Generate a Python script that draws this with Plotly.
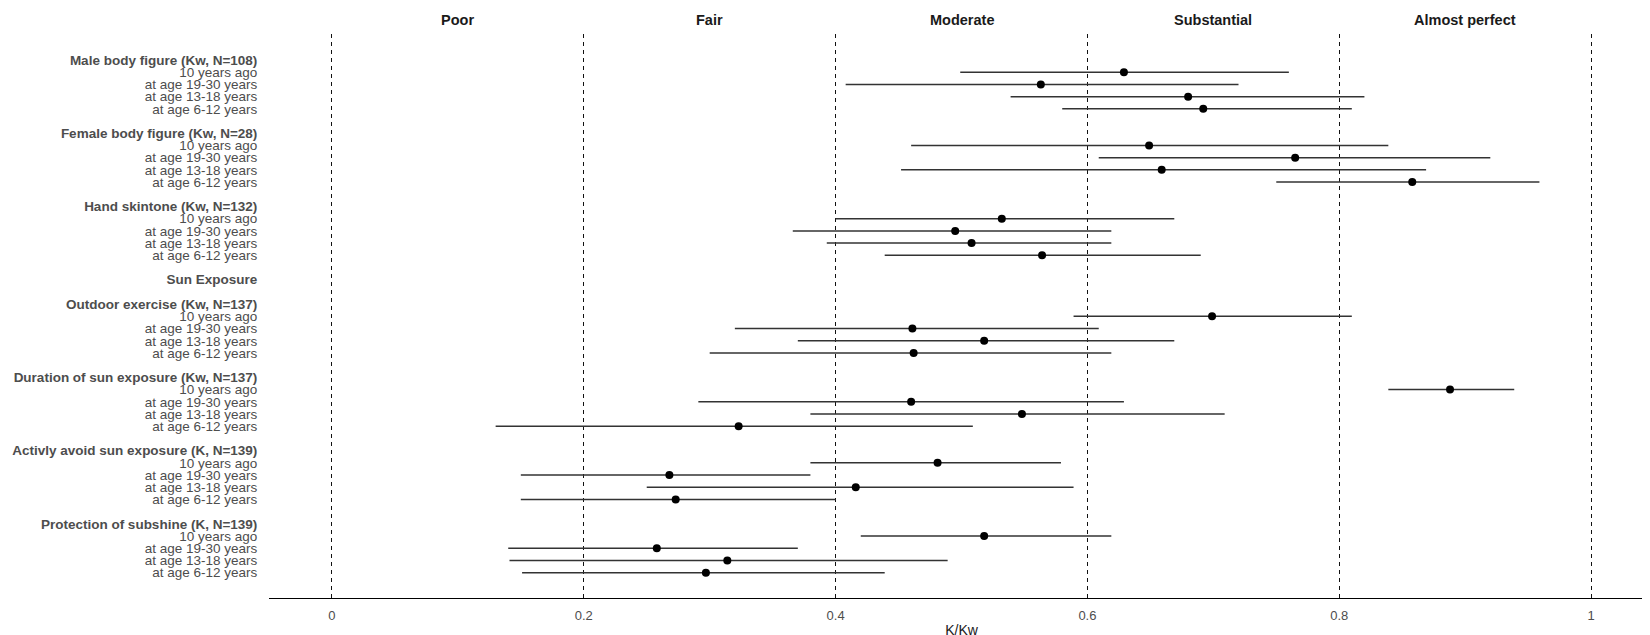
import plotly.graph_objects as go

# ---------------- data ----------------
group_names = [
    "Male body figure (Kw, N=108)",
    "Female body figure (Kw, N=28)",
    "Hand skintone (Kw, N=132)",
    "Outdoor exercise (Kw, N=137)",
    "Duration of sun exposure (Kw, N=137)",
    "Activly avoid sun exposure (K, N=139)",
    "Protection of subshine (K, N=139)",
]
section_header = "Sun Exposure"
section_before_group = 3  # "Sun Exposure" heading precedes group index 3

item_labels = ["10 years ago", "at age 19-30 years", "at age 13-18 years", "at age 6-12 years"]

estimate = [
    [0.629, 0.563, 0.680, 0.692],
    [0.649, 0.765, 0.659, 0.858],
    [0.532, 0.495, 0.508, 0.564],
    [0.699, 0.461, 0.518, 0.462],
    [0.888, 0.460, 0.548, 0.323],
    [0.481, 0.268, 0.416, 0.273],
    [0.518, 0.258, 0.314, 0.297],
]
lower = [
    [0.499, 0.408, 0.539, 0.580],
    [0.460, 0.609, 0.452, 0.750],
    [0.400, 0.366, 0.393, 0.439],
    [0.589, 0.320, 0.370, 0.300],
    [0.839, 0.291, 0.380, 0.130],
    [0.380, 0.150, 0.250, 0.150],
    [0.420, 0.140, 0.141, 0.151],
]
upper = [
    [0.760, 0.720, 0.820, 0.810],
    [0.839, 0.920, 0.869, 0.959],
    [0.669, 0.619, 0.619, 0.690],
    [0.810, 0.609, 0.669, 0.619],
    [0.939, 0.629, 0.709, 0.509],
    [0.579, 0.380, 0.589, 0.400],
    [0.619, 0.370, 0.489, 0.439],
]

agreement_labels = ["Poor", "Fair", "Moderate", "Substantial", "Almost perfect"]
agreement_bounds = [0, 0.2, 0.4, 0.6, 0.8, 1.0]
x_tick_labels = ["0", "0.2", "0.4", "0.6", "0.8", "1"]

# ---------------- row layout ----------------
tick_pos, tick_txt = [], []
pt_y, pt_x, err_plus, err_minus = [], [], [], []
row = 0
for g, name in enumerate(group_names):
    if g == section_before_group:
        tick_pos.append(row)
        tick_txt.append("<b>" + section_header + "</b>")
        row += 2
    tick_pos.append(row)
    tick_txt.append("<b>" + name + "</b>")
    row += 1
    for k, lab in enumerate(item_labels):
        tick_pos.append(row)
        tick_txt.append(lab)
        pt_y.append(row)
        pt_x.append(estimate[g][k])
        err_plus.append(upper[g][k] - estimate[g][k])
        err_minus.append(estimate[g][k] - lower[g][k])
        row += 1
    row += 1
last_row = row - 2

FONT = "Liberation Sans, Arial, sans-serif"
TXT = "#4d4d4d"

fig = go.Figure()
fig.add_trace(go.Scatter(
    x=pt_x, y=pt_y, mode="markers",
    marker=dict(symbol="circle", size=8, color="black"),
    error_x=dict(type="data", symmetric=False, array=err_plus, arrayminus=err_minus,
                 width=0, thickness=1.5, color="#333333"),
    showlegend=False, hoverinfo="skip",
))

for i, lab in enumerate(agreement_labels):
    fig.add_annotation(
        x=(agreement_bounds[i] + agreement_bounds[i + 1]) / 2, xref="x",
        y=1, yref="paper", yanchor="middle", yshift=14,
        text="<b>" + lab + "</b>", showarrow=False,
        font=dict(family=FONT, size=14.5, color="#1a1a1a"),
    )

fig.update_layout(
    width=1650, height=635,
    margin=dict(l=255, r=4, t=26, b=45),
    paper_bgcolor="white", plot_bgcolor="white",
    font=dict(family=FONT, color=TXT),
    xaxis=dict(
        range=[-0.05, 1.05],
        tickvals=agreement_bounds, ticktext=x_tick_labels,
        showgrid=True, gridcolor="#111111", gridwidth=1.2, griddash="4px,4px",
        zeroline=False, showline=True, linecolor="black", linewidth=1.3,
        ticks="outside", ticklen=5, tickcolor="rgba(0,0,0,0)",
        tickfont=dict(family=FONT, size=13, color=TXT),
        title=dict(text="K/Kw", font=dict(family=FONT, size=14, color="#1a1a1a"), standoff=3),
    ),
    yaxis=dict(
        range=[last_row + 2.07, -2.13],
        tickvals=tick_pos, ticktext=tick_txt,
        showgrid=False, zeroline=False, showline=False,
        ticks="outside", ticklen=8, tickcolor="rgba(0,0,0,0)",
        tickfont=dict(family=FONT, size=13.5, color=TXT),
    ),
)

fig.write_html("out.html")
